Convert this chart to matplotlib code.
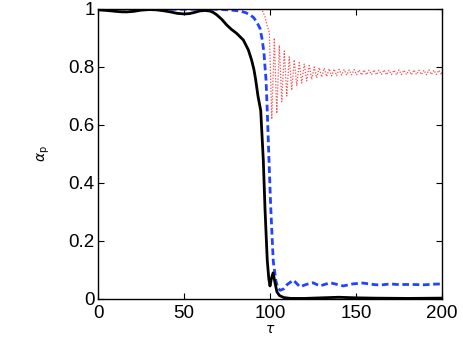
import numpy as np
import matplotlib
matplotlib.use('Agg')
import matplotlib.pyplot as plt

plt.rcParams['font.family'] = ['Liberation Sans', 'DejaVu Sans']

# solid black curve
black_tau = [0, 5, 10, 14, 17, 21, 25, 30, 34, 38, 42, 46, 50, 53, 56, 59, 62, 65,
             67, 69, 72, 74.8, 77.5, 80.6, 84.5, 87.4, 89.3, 90.7, 91.7, 93, 94.6,
             96.1, 97.1, 98.4, 99.3, 100, 100.8, 101.8, 102.8, 104, 105.5, 108,
             112, 120, 130, 140, 150, 160, 180, 200]
black_val = [0.997, 0.995, 0.992, 0.99, 0.99, 0.992, 0.996, 0.998, 0.997, 0.994,
             0.99, 0.985, 0.983, 0.984, 0.988, 0.993, 0.995, 0.993, 0.988, 0.98,
             0.964, 0.945, 0.93, 0.916, 0.893, 0.859, 0.824, 0.79, 0.755, 0.70,
             0.65, 0.48, 0.31, 0.134, 0.07, 0.045, 0.07, 0.09, 0.06, 0.025,
             0.012, 0.005, 0.002, 0.002, 0.004, 0.006, 0.004, 0.003, 0.002, 0.003]

# dashed blue curve
blue_tau = [0, 20, 40, 60, 69, 76, 82.6, 86, 88.4, 90.5, 92.2, 94.2, 95.5, 96.5,
            97.1, 97.7, 98.4, 99.4, 100.4, 101.9, 103.5, 104.8, 106, 108, 110,
            113.6, 117.4, 121, 125, 129, 135, 142.6, 148, 154, 160, 164, 170,
            174, 180, 183, 190, 195, 200]
blue_val = [1.0, 1.0, 0.999, 0.999, 0.999, 0.997, 0.993, 0.987, 0.98, 0.97,
            0.956, 0.933, 0.893, 0.848, 0.80, 0.755, 0.65, 0.48, 0.32, 0.13,
            0.06, 0.035, 0.03, 0.035, 0.05, 0.065, 0.042, 0.05, 0.056, 0.045,
            0.056, 0.045, 0.052, 0.055, 0.05, 0.048, 0.052, 0.05, 0.05, 0.05,
            0.049, 0.051, 0.052]

# dotted red curve: smooth start, then oscillation extremes
red_tau_head = [0, 50, 90, 94, 95.5, 97, 98, 99]
red_val_head = [1.0, 1.0, 1.0, 1.0, 0.995, 0.975, 0.95, 0.93]
red_tau_osc = list(np.arange(99.6, 200, 1.45)) + [200]
red_val_osc = [0.92, 0.62, 0.90, 0.64, 0.875, 0.68, 0.855, 0.70, 0.835, 0.72,
               0.825, 0.735, 0.815, 0.745, 0.81, 0.752, 0.805, 0.757, 0.80, 0.762,
               0.798, 0.765, 0.796, 0.767, 0.794, 0.769, 0.793, 0.770, 0.792,
               0.772, 0.791, 0.772, 0.790, 0.773, 0.791, 0.773, 0.790, 0.772, 0.790,
               0.773, 0.789, 0.774, 0.790, 0.773, 0.789, 0.774, 0.790, 0.773, 0.789,
               0.774, 0.789, 0.773, 0.790, 0.774, 0.789, 0.774, 0.789, 0.773, 0.790,
               0.774, 0.789, 0.774, 0.789, 0.773, 0.790, 0.774, 0.789, 0.774, 0.789,
               0.774, 0.782]

red_tau = red_tau_head + red_tau_osc
red_val = red_val_head + red_val_osc

xticks = [0, 50, 100, 150, 200]
yticks = [0, 0.2, 0.4, 0.6, 0.8, 1.0]
ytick_labels = ['0', '0.2', '0.4', '0.6', '0.8', '1']

fig = plt.figure(figsize=(4.63, 3.38), dpi=100)
ax = fig.add_axes([0.2117, 0.1154, 0.7429, 0.858])

ax.plot(red_tau, red_val, color='#ff4a4a', lw=0.9, linestyle=(0, (1, 1.4)))
ax.plot(blue_tau, blue_val, '--', color='#2244ff', lw=2.0, dashes=(2.4, 1.3))
ax.plot(black_tau, black_val, '-', color='black', lw=2.0)

ax.set_xlim(0, 200)
ax.set_ylim(0, 1)
ax.set_xticks(xticks)
ax.set_yticks(yticks)
ax.set_yticklabels(ytick_labels)
ax.tick_params(direction='in', top=True, right=True, length=4, width=0.8,
               labelsize=13.5)
ax.tick_params(axis='x', pad=4.5)
ax.tick_params(axis='y', pad=2.5)
for sp in ax.spines.values():
    sp.set_linewidth(1.0)

ax.set_xlabel(r'$\tau$', fontsize=10, labelpad=0)
ax.set_ylabel(r'$\alpha_{\rm p}$', fontsize=10, labelpad=12)

fig.savefig('out.png', dpi=100)
